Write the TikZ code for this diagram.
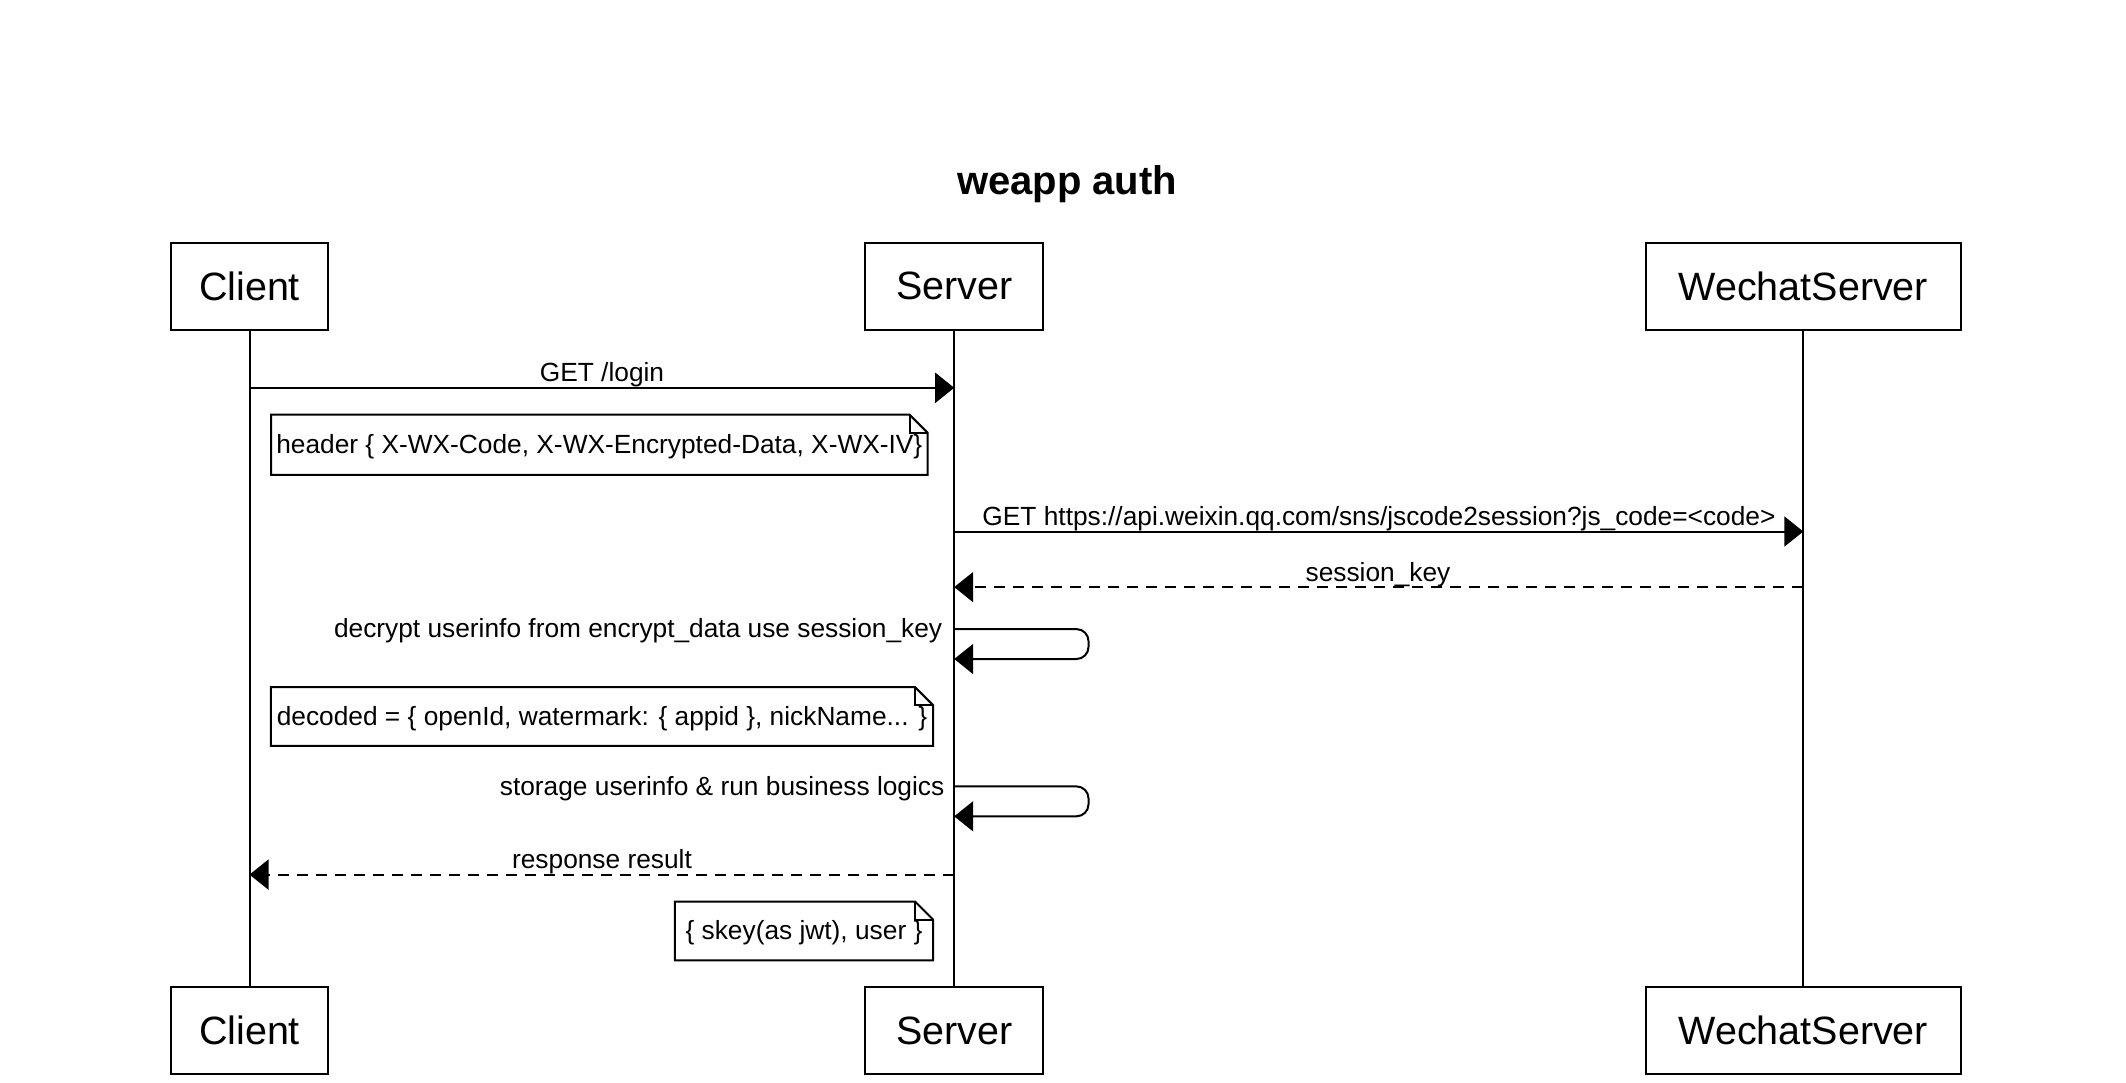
\documentclass[tikz,border=0pt]{standalone}
\usepackage{fontspec}
\setmainfont{Liberation Sans}
\usetikzlibrary{arrows.meta}
\tikzset{
  party/.style={draw, line width=2pt, minimum height=86.8pt, inner sep=0pt,
    font=\fontsize{39.5}{44}\selectfont},
  life/.style={line width=2pt},
  msg/.style={line width=2pt, -{Triangle[length=19pt,width=30pt]}},
  reply/.style={msg, dash pattern=on 11pt off 8pt},
  lbl/.style={font=\fontsize{26.3}{30}\selectfont, anchor=base, inner sep=0pt},
  notebox/.style={inner sep=0pt, font=\fontsize{26.3}{30}\selectfont},
  noteline/.style={line width=2pt, line join=miter},
}
\newcommand{\drawnote}[1]{%
  \draw[noteline, fill=white] (#1.north west) -- ([xshift=-18pt]#1.north east)
    -- ([yshift=-18pt]#1.north east) -- (#1.south east) -- (#1.south west) -- cycle;
  \draw[line width=2pt] ([xshift=-18pt]#1.north east) |- ([yshift=-18pt]#1.north east);
}
\begin{document}
\begin{tikzpicture}[x=1pt,y=-1pt]
\useasboundingbox (0,0) rectangle (2126,1082);

% title
\node[font=\bfseries\fontsize{40}{48}\selectfont] (title) at (1067,184.4) {weapp auth};

% participants
\node[party, minimum width=157.3pt] (cT) at (249.5,286.1) {Client};
\node[party, minimum width=177.7pt] (sT) at (954.2,286.1) {Server};
\node[party, minimum width=314.6pt] (wT) at (1803.3,286.1) {WechatServer};
\node[party, minimum width=157.3pt] (cB) at (249.5,1030.5) {Client};
\node[party, minimum width=177.7pt] (sB) at (954.2,1030.5) {Server};
\node[party, minimum width=314.6pt] (wB) at (1803.3,1030.5) {WechatServer};

% lifelines
\draw[life] (cT.south) -- (cB.north);
\draw[life] (sT.south) -- (sB.north);
\draw[life] (wT.south) -- (wB.north);

% message coordinates
\coordinate (m1a) at (cT |- 0,387.8);
\coordinate (m1b) at (sT |- 0,387.8);
\coordinate (m3a) at (sT |- 0,531.5);
\coordinate (m3b) at (wT |- 0,531.5);
\coordinate (m4a) at (wT |- 0,587.1);
\coordinate (m4b) at (sT |- 0,587.1);
\coordinate (s1a) at (sT |- 0,629.1);
\coordinate (s1b) at (sT |- 0,659.0);
\coordinate (s2a) at (sT |- 0,786.4);
\coordinate (s2b) at (sT |- 0,816.3);
\coordinate (m8a) at (sT |- 0,874.6);
\coordinate (m8b) at (cT |- 0,874.6);

% GET /login
\draw[msg] (m1a) -- (m1b);
\node[lbl] (l1) at (602,381) {GET /login};

% note 1
\node[notebox, minimum width=656.2pt, minimum height=59.7pt] (n1) at (599.3,444.75) {};
\drawnote{n1}
\node[notebox] (n1t) at (599.3,446.5) {header \{ X-WX-Code, X-WX-Encrypted-Data, X-WX-IV\}};

% GET https
\draw[msg] (m3a) -- (m3b);
\node[lbl] (l3) at (1379,525) {GET https://api.weixin.qq.com/sns/jscode2session?js\_code=<code>};

% session_key
\draw[reply] (m4a) -- (m4b);
\node[lbl] (l4) at (1378,581.5) {session\_key};

% self message 1
\draw[msg, rounded corners=12pt] (s1a) -- ++(134.3,0) |- (s1b);
\node[lbl, anchor=base east] (l5) at (942.4,637) {decrypt userinfo from encrypt\_data use session\_key};

% note 2
\node[notebox, minimum width=661.7pt, minimum height=58.3pt] (n2) at (602,716.5) {};
\drawnote{n2}
\node[notebox] (n2t) at (602,718.5) {decoded = \{ openId, watermark: \{ appid \}, nickName... \}};

% self message 2
\draw[msg, rounded corners=12pt] (s2a) -- ++(134.3,0) |- (s2b);
\node[lbl, anchor=base east] (l6) at (944.5,795) {storage userinfo \& run business logics};

% response result
\draw[reply] (m8a) -- (m8b);
\node[lbl] (l8) at (602,868) {response result};

% note 3
\node[notebox, minimum width=257.7pt, minimum height=58.3pt] (n3) at (804,930.9) {};
\drawnote{n3}
\node[notebox] (n3t) at (804,932.9) {\{ skey(as jwt), user \}};

\end{tikzpicture}
\end{document}
